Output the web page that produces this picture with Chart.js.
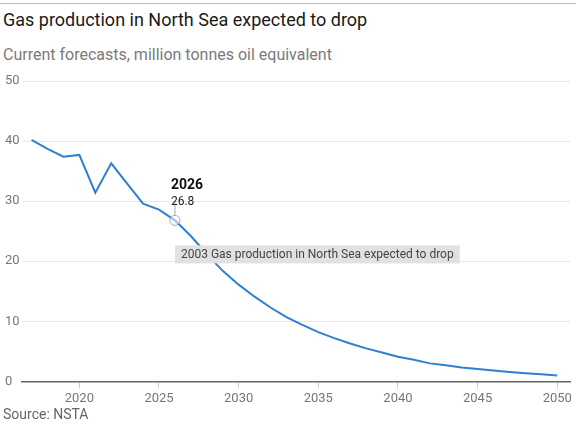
<!DOCTYPE html>
<html>
<head>
<meta charset="utf-8">
<script src="https://cdn.jsdelivr.net/npm/chart.js@4"></script>
<style>
  body { margin: 0; background: #fff; font-family: Roboto, "Noto Sans", sans-serif; }
  #wrap { position: relative; width: 576px; height: 427px; overflow: hidden; }
  #topline { position: absolute; left: 0; top: 3px; width: 576px; height: 1px; background: #bbb; }
  #title { position: absolute; left: 3px; top: 9px; font-size: 18px; color: #1a1a1a; }
  #subtitle { position: absolute; left: 3px; top: 45px; font-size: 16px; color: #7a7a7a; }
  #source { position: absolute; left: 3px; top: 406px; font-size: 14px; color: #666; }
  #chart-box { position: absolute; left: 0; top: 0; width: 576px; height: 427px; }
</style>
</head>
<body>
<div id="wrap">
  <div id="topline"></div>
  <div id="title">Gas production in North Sea expected to drop</div>
  <div id="subtitle">Current forecasts, million tonnes oil equivalent</div>
  <div id="chart-box"><canvas id="gas-chart"></canvas></div>
  <div id="source">Source: NSTA</div>
</div>
<script>
// 年次データ
const years = [2017, 2018, 2019, 2020, 2021, 2022, 2023, 2024, 2025, 2026, 2027, 2028,
  2029, 2030, 2031, 2032, 2033, 2034, 2035, 2036, 2037, 2038, 2039, 2040,
  2041, 2042, 2043, 2044, 2045, 2046, 2047, 2048, 2049, 2050];
const gasProduction = [40.2, 38.7, 37.4, 37.7, 31.4, 36.3, 32.9, 29.6, 28.6, 26.8, 24.2, 21.2,
  18.4, 16.1, 14.1, 12.3, 10.7, 9.4, 8.2, 7.2, 6.3, 5.5, 4.8, 4.1,
  3.6, 3.0, 2.7, 2.3, 2.05, 1.8, 1.55, 1.35, 1.2, 1.0];
const xTicks = [2020, 2025, 2030, 2035, 2040, 2045, 2050];
const highlightYear = 2026;
const tooltipText = '2003 Gas production in North Sea expected to drop';

// ハイライト注記を描くプラグイン
const highlightPlugin = {
  id: 'highlight',
  afterDatasetsDraw(chart) {
    const ctx = chart.ctx;
    const idx = years.indexOf(highlightYear);
    const px = chart.scales.x.getPixelForValue(years[idx]);
    const py = chart.scales.y.getPixelForValue(gasProduction[idx]);
    ctx.save();
    // 縦線
    ctx.strokeStyle = '#aaa';
    ctx.lineWidth = 1;
    ctx.beginPath();
    ctx.moveTo(px, py - 5);
    ctx.lineTo(px, py - 19);
    ctx.stroke();
    // 円
    ctx.beginPath();
    ctx.arc(px, py, 5, 0, Math.PI * 2);
    ctx.fillStyle = 'rgba(255,255,255,0.5)';
    ctx.fill();
    ctx.stroke();
    // ラベル
    ctx.fillStyle = '#111';
    ctx.textBaseline = 'alphabetic';
    ctx.font = 'bold 14px Roboto, sans-serif';
    ctx.fillText(String(years[idx]), px - 4, py - 31);
    ctx.font = '12px Roboto, sans-serif';
    ctx.fillStyle = '#222';
    ctx.fillText(gasProduction[idx].toFixed(1), px - 4, py - 15);
    // グレーのボックス
    ctx.font = '12px Roboto, sans-serif';
    const w = ctx.measureText(tooltipText).width + 12;
    const bx = px, by = py + 25;
    ctx.fillStyle = '#e1e1e1';
    ctx.fillRect(bx, by, w, 18);
    ctx.fillStyle = '#444';
    ctx.textBaseline = 'middle';
    ctx.fillText(tooltipText, bx + 6, by + 9.5);
    ctx.restore();
  }
};

const ctx = document.getElementById('gas-chart').getContext('2d');
const chart = new Chart(ctx, {
  type: 'line',
  data: {
    datasets: [{
      label: 'Gas production',
      data: years.map((y, i) => ({ x: y, y: gasProduction[i] })),
      borderColor: '#2f7fd3',
      borderWidth: 2,
      pointRadius: 0,
      tension: 0,
      fill: false
    }]
  },
  options: {
    responsive: true,
    maintainAspectRatio: false,
    animation: false,
    layout: { padding: { top: 81, left: 5, right: 6, bottom: 17 } },
    plugins: {
      legend: { display: false },
      tooltip: { enabled: false }
    },
    scales: {
      x: {
        type: 'linear',
        min: 2016.4,
        max: 2050.8,
        afterBuildTicks: (scale) => { scale.ticks = xTicks.map(v => ({ value: v })); },
        grid: { drawOnChartArea: false, color: '#ccc', tickLength: 7 },
        border: { color: '#666', width: 1.5 },
        ticks: {
          color: '#777',
          padding: 3,
          maxRotation: 0,
          font: { family: 'Roboto, sans-serif', size: 13 },
          callback: (v) => String(v)
        }
      },
      y: {
        min: 0,
        max: 50,
        afterFit: (scale) => { scale.width = 17; },
        ticks: {
          stepSize: 10,
          color: '#777',
          padding: 4,
          crossAlign: 'far',
          font: { family: 'Roboto, sans-serif', size: 13 }
        },
        grid: { color: '#e6e6e6', drawTicks: false },
        border: { display: false }
      }
    }
  },
  plugins: [highlightPlugin]
});
</script>
</body>
</html>
